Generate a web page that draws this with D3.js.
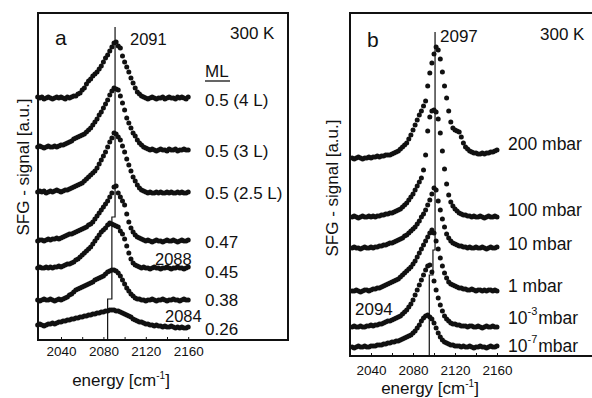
<!DOCTYPE html>
<html>
<head>
<meta charset="utf-8">
<script src="https://cdn.jsdelivr.net/npm/d3@7"></script>
<style>
  body { margin: 0; background: #fff; }
  text { font-family: "Liberation Sans", Arial, sans-serif; fill: #111; }
</style>
</head>
<body>
<div id="chart"></div>
<script>
// ---- panel a: coverage series (energy grid 2018..2160 cm-1, step 2) ----
const energyA = d3.range(2018, 2161, 2);
const coverageLabels = ["0.5 (4 L)", "0.5 (3 L)", "0.5 (2.5 L)", "0.47", "0.45", "0.38", "0.26"];
const offsetsA = [242, 192, 148, 99, 72, 40, 15];

const sig4L = [1,0,1,-1,0,1,0,-1,0,1,0,1,0,-1,1,0,1,2,2,
  4,5,8,10,14,17,19,22,24,26,29,32,36,40,43,47,51,55,56,
  52,50,42,36,31,26,20,15,10,6,4,2,1,
  0,-1,0,1,0,-1,0,0,1,-1,0,1,0,0,-1,1,0,1,0,-1,1];
const sig3L = [1,2,1,0,1,2,1,1,2,1,2,3,3,4,
  5,6,7,9,10,11,12,
  13,14,16,18,20,23,26,29,33,36,40,44,48,53,57,
  60,59,
  58,52,45,38,30,25,20,15,12,8,5,3,1,
  0,-1,-2,-1,-2,-3,-2,-1,-2,-2,-3,-1,-2,-2,-1,-3,-2,-2,-1,-2,-2];
const sig25L = [0,1,0,1,-1,0,1,0,1,2,1,0,1,2,
  2,3,4,5,6,7,8,
  9,11,13,15,17,19,21,24,28,32,36,40,45,50,54,
  59,58,
  55,52,46,40,33,27,21,15,11,7,4,2,1,
  0,-1,0,-1,-1,0,-1,0,-1,-1,0,-1,0,-1,-1,0,-1,0,-1,-1,0];
const sig047 = [0,1,1,0,1,2,1,2,2,3,2,3,4,5,
  6,7,7,8,9,10,11,
  12,13,14,16,17,19,22,25,28,31,34,37,40,44,48,
  54,55,
  48,44,40,36,27,19,13,9,6,4,3,2,1,
  0,1,0,-1,0,1,0,0,-1,0,1,0,0,1,0,-1,0,1,0,0,1];
const sig045 = [0,1,0,0,1,0,1,0,1,1,2,1,2,3,
  4,4,5,6,8,9,11,
  13,15,17,19,21,24,27,30,33,36,38,40,43,45,44,
  43,42,
  41,37,34,29,22,15,9,5,3,2,1,0,1,
  0,0,-1,0,1,0,0,-1,0,0,1,0,-1,0,0,1,0,0,-1,0,1];
const sig038 = [0,-1,0,1,0,0,1,0,-1,0,1,0,1,2,
  3,5,6,8,10,11,12,
  13,14,15,16,17,18,20,21,22,23,24,26,28,29,30,
  30,29,
  27,24,20,16,12,9,6,4,2,1,1,0,0,
  -1,0,0,1,0,-1,0,0,1,0,-1,0,0,1,0,0,-1,0,1,0,0];
const sig026 = [0,1,0,-1,0,1,1,2,1,2,3,3,4,4,
  5,5,6,6,7,7,8,
  8,9,9,10,10,11,11,12,12,13,13,14,14,15,15,
  15,14,
  14,13,12,11,10,9,8,6,5,4,3,3,2,
  1,1,0,0,-1,0,-1,-1,-2,-1,-2,-2,-1,-2,-3,-2,-3,-2,-3,-3,-2];
const seriesA = [sig4L, sig3L, sig25L, sig047, sig045, sig038, sig026];

// peak position marker (step line) for panel a
const stepXA = [2091, 2088, 2084];
const stepYA = [313, 123, 41, 0];

// ---- panel b: pressure series (energy grid 2022..2160 cm-1, step 2) ----
const energyB = d3.range(2022, 2161, 2);
const pressureLabels = [["200 mbar"], ["100 mbar"], ["10 mbar"], ["1 mbar"], ["10", "-3", "mbar"], ["10", "-7", "mbar"]];
const offsetsB = [198, 139, 108, 65, 29, 9];

const sig200 = [0,-1,0,1,0,-1,0,0,1,0,1,1,2,1,2,2,3,3,3,4,
  5,6,7,9,11,13,15,
  19,23,28,33,38,43,47,
  52,57,72,85,95,104,111,
  108,99,86,72,60,47,36,
  30,28,27,26,21,15,11,9,
  7,6,5,5,4,4,5,4,5,5,6,6,7,8];
const sig100 = [0,1,0,-1,0,1,0,0,1,0,1,0,1,1,
  2,2,3,3,4,4,5,
  6,7,8,10,12,14,17,
  20,23,27,31,35,39,
  47,62,86,100,106,107,105,
  98,84,66,48,33,22,15,
  11,8,6,4,3,2,2,1,
  1,0,1,0,0,1,0,-1,0,1,0,0,1,0];
const sig10 = [0,1,0,0,-1,0,1,0,0,1,0,1,
  1,2,2,3,3,4,5,
  5,6,7,8,9,10,12,
  13,15,17,19,21,24,27,
  31,34,38,43,48,54,60,
  58,47,38,29,21,14,10,
  7,5,4,3,2,2,1,
  1,0,1,0,0,1,0,0,1,0,-1,0,1,0,0,1];
const sig1 = [0,0,1,0,-1,0,1,1,0,1,2,2,
  3,3,4,5,6,7,8,
  9,10,11,12,14,16,18,
  20,22,24,27,30,34,38,
  42,46,50,54,58,61,58,
  50,42,33,25,18,13,9,
  7,6,5,4,3,3,2,
  2,1,1,2,1,0,1,1,0,1,0,1,1,0,1,0];
const sig1e3 = [0,1,0,0,1,0,0,1,1,2,1,2,
  2,3,3,4,5,6,6,
  7,8,9,10,11,13,15,
  17,20,23,27,32,37,42,
  47,52,57,61,62,55,46,
  37,29,22,16,11,8,6,
  4,3,3,2,2,1,1,
  1,0,1,1,0,0,1,0,-1,0,1,0,0,1,0,0];
const sig1e7 = [0,-1,0,1,0,0,1,0,0,1,1,1,
  2,2,2,3,3,4,4,
  5,5,6,6,7,8,9,
  10,11,12,14,16,19,22,
  26,29,31,32,30,28,24,
  19,14,10,7,5,4,3,
  2,2,1,1,1,0,1,
  0,0,1,0,-1,0,0,1,0,0,-1,0,1,0,0,1];
const seriesB = [sig200, sig100, sig10, sig1, sig1e3, sig1e7];

const stepXB = [2101, 2099, 2095.5];
const stepYB = [324, 106, 81, 0];

const tickVals = [2040, 2060, 2080, 2100, 2120, 2140, 2160];

// ---------------------------------------------------------------
let width = 592,
  height = 398;

let svg = d3.select("#chart")
  .append("svg")
  .attr("width", width)
  .attr("height", height);

let xA = d3.scaleLinear().domain([2040, 2160]).range([61, 188.2]);
let yA = d3.scaleLinear().domain([0, 327]).range([340, 13]);
let xB = d3.scaleLinear().domain([2040, 2160]).range([371, 497]);
let yB = d3.scaleLinear().domain([0, 343]).range([356, 13]);

function drawTraces(g, energy, series, offsets, x, y) {
  series.forEach((s, k) => {
    g.append("g")
      .selectAll("circle")
      .data(s.map((v, i) => ({ e: energy[i], v: offsets[k] + v })))
      .join("circle")
      .attr("cx", d => x(d.e))
      .attr("cy", d => y(d.v))
      .attr("r", 2.5)
      .attr("fill", "#111");
  });
}

function drawStep(g, xs, ys, x, y) {
  let pts = [];
  xs.forEach((v, i) => {
    pts.push([x(v), y(ys[i])]);
    pts.push([x(v), y(ys[i + 1])]);
  });
  g.append("path")
    .attr("d", d3.line()(pts))
    .attr("fill", "none")
    .attr("stroke", "#111")
    .attr("stroke-width", 1.2);
}

function drawAxis(g, x, y0, labelY) {
  let ax = g.append("g")
    .attr("transform", `translate(0,${y0})`)
    .call(d3.axisBottom(x)
      .tickValues(tickVals)
      .tickSizeInner(-3)
      .tickSizeOuter(0)
      .tickFormat(d => d % 40 === 0 ? d : ""));
  ax.select(".domain").remove();
  ax.selectAll(".tick line").attr("stroke", "#111").attr("stroke-width", 1);
  ax.selectAll(".tick text")
    .attr("y", labelY)
    .attr("dy", 0)
    .attr("fill", "#111")
    .style("font-family", "'Liberation Sans', Arial, sans-serif")
    .style("font-size", "13.5px");
}

function addText(g, str, x, y, size, anchor) {
  return g.append("text")
    .attr("x", x)
    .attr("y", y)
    .attr("text-anchor", anchor || "start")
    .style("font-size", size + "px")
    .text(str);
}

function energyLabel(g, cx, y) {
  let t = g.append("text")
    .attr("x", cx)
    .attr("y", y)
    .attr("text-anchor", "middle")
    .style("font-size", "17px");
  t.append("tspan").text("energy [cm");
  t.append("tspan").attr("dy", -7).style("font-size", "10px").text("-1");
  t.append("tspan").attr("dy", 7).text("]");
}

function signalLabel(g, x, cy) {
  g.append("text")
    .attr("transform", `translate(${x},${cy}) rotate(-90)`)
    .attr("text-anchor", "middle")
    .style("font-size", "17px")
    .text("SFG - signal [a.u.]");
}

// ---- panel a ----
let ga = svg.append("g").attr("class", "panel-a");

drawTraces(ga, energyA, seriesA, offsetsA, xA, yA);
drawStep(ga, stepXA, stepYA, xA, yA);

ga.append("rect")
  .attr("x", 38).attr("y", 13)
  .attr("width", 250).attr("height", 327)
  .attr("fill", "none")
  .attr("stroke", "#111")
  .attr("stroke-width", 2);

drawAxis(ga, xA, 340, 16);

addText(ga, "a", 55, 45, 21);
addText(ga, "2091", 130, 45, 16.5);
addText(ga, "300 K", 230, 39, 17);
addText(ga, "ML", 205, 77, 17);
ga.append("line")
  .attr("x1", 205).attr("x2", 230)
  .attr("y1", 81).attr("y2", 81)
  .attr("stroke", "#111").attr("stroke-width", 1.3);

let covY = [106, 157, 199, 248, 278, 306, 335];
coverageLabels.forEach((l, i) => addText(ga, l, 205, covY[i], 17));

addText(ga, "2088", 155, 265, 16.5);
addText(ga, "2084", 165, 322, 16.5);

energyLabel(ga, 121, 386);
signalLabel(ga, 29, 167);

// ---- panel b ----
let gb = svg.append("g").attr("class", "panel-b");

drawTraces(gb, energyB, seriesB, offsetsB, xB, yB);
drawStep(gb, stepXB, stepYB, xB, yB);

gb.append("path")
  .attr("d", "M600,13H350V356H600")
  .attr("fill", "none")
  .attr("stroke", "#111")
  .attr("stroke-width", 2);

drawAxis(gb, xB, 356, 19);

addText(gb, "b", 367, 47, 21);
addText(gb, "2097", 440, 42, 17);
addText(gb, "300 K", 540, 40, 17);

let presY = [150, 216, 250, 292, 324, 352];
pressureLabels.forEach((parts, i) => {
  let t = gb.append("text")
    .attr("x", 508)
    .attr("y", presY[i])
    .style("font-size", "17.5px");
  if (parts.length === 1) {
    t.text(parts[0]);
  } else {
    t.append("tspan").text(parts[0]);
    t.append("tspan").attr("dy", -9).style("font-size", "11px").text(parts[1]);
    t.append("tspan").attr("dx", 1).attr("dy", 9).text(parts[2]);
  }
});

addText(gb, "2094", 355, 315, 17);

energyLabel(gb, 430, 394);
signalLabel(gb, 338, 188);
</script>
</body>
</html>
